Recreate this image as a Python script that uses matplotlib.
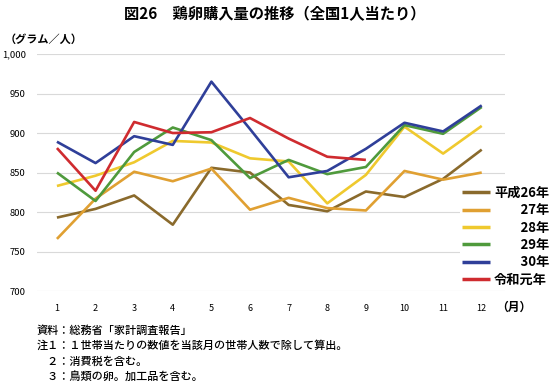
import matplotlib
matplotlib.use('Agg')
import matplotlib.pyplot as plt
from matplotlib import rcParams

rcParams['font.family'] = ['Noto Sans CJK JP', 'DejaVu Sans']

# Data (grams per person, by month)
months = [1, 2, 3, 4, 5, 6, 7, 8, 9, 10, 11, 12]
h26 = [793, 804, 821, 784, 856, 850, 809, 801, 826, 819, 842, 879]
h27 = [766, 817, 851, 839, 855, 803, 818, 805, 802, 852, 841, 850]
h28 = [833, 846, 863, 890, 888, 868, 864, 811, 847, 908, 874, 909]
h29 = [850, 814, 876, 907, 891, 843, 866, 848, 857, 910, 899, 933]
h30 = [889, 862, 896, 885, 965, 905, 844, 852, 880, 913, 902, 935]
r01 = [881, 827, 914, 900, 901, 919, 893, 870, 866]

series = [
    ('平成26年', h26, '#8a6a2c'),
    ('\u3000\u300027年', h27, '#e0a032'),
    ('\u3000\u300028年', h28, '#efc92e'),
    ('\u3000\u300029年', h29, '#4f9a3c'),
    ('\u3000\u300030年', h30, '#2f3f99'),
    ('令和元年', r01, '#cf2b2f'),
]
yticks = [700, 750, 800, 850, 900, 950, 1000]

fig = plt.figure(figsize=(5.5, 3.83), dpi=100)
ax = fig.add_axes([0.067, 0.240, 0.851, 0.619])

for label, vals, color in series:
    ax.plot(months[:len(vals)], vals, color=color, lw=1.9, label=label,
            solid_capstyle='butt', zorder=3)

ax.set_xlim(0.48, 12.6)
ax.set_ylim(700, 1000)
ax.set_yticks(yticks)
ax.set_yticklabels(['{:,}'.format(v) for v in yticks], fontsize=6.8)
ax.set_xticks(months)
ax.set_xticklabels([str(m) for m in months], fontsize=6.5)
ax.tick_params(axis='x', length=0, pad=9)
ax.tick_params(axis='y', length=0, pad=8)
ax.grid(axis='y', color='#d9d9d9', lw=0.8, zorder=0)
for s in ax.spines.values():
    s.set_visible(False)

leg = ax.legend(loc='lower right', bbox_to_anchor=(1.115, -0.02), frameon=True,
                prop=dict(size=9.5, weight='bold'), handlelength=2.1,
                handletextpad=0.3, labelspacing=0.25, borderpad=0.2)
leg.get_frame().set_facecolor('white')
leg.get_frame().set_edgecolor('none')
leg.get_frame().set_alpha(1)
leg.set_zorder(5)
for line in leg.get_lines():
    line.set_linewidth(2.5)

fig.text(0.5, 0.962, '図26　鶏卵購入量の推移（全国1人当たり）', ha='center',
         va='center', fontsize=11, fontweight='bold')
fig.text(0.008, 0.896, '（グラム／人）', ha='left', va='center', fontsize=8,
         fontweight='bold')
fig.text(0.903, 0.198, '（月）', ha='left', va='center', fontsize=8.5,
         fontweight='bold')

notes = ['資料：総務省「家計調査報告」',
         '注１：１世帯当たりの数値を当該月の世帯人数で除して算出。',
         '\u3000２：消費税を含む。',
         '\u3000３：鳥類の卵。加工品を含む。']
for i, t in enumerate(notes):
    fig.text(0.066, 0.138 - i * 0.0405, t, ha='left', va='center', fontsize=8,
             fontweight='medium')

fig.savefig('out.png', dpi=100)
